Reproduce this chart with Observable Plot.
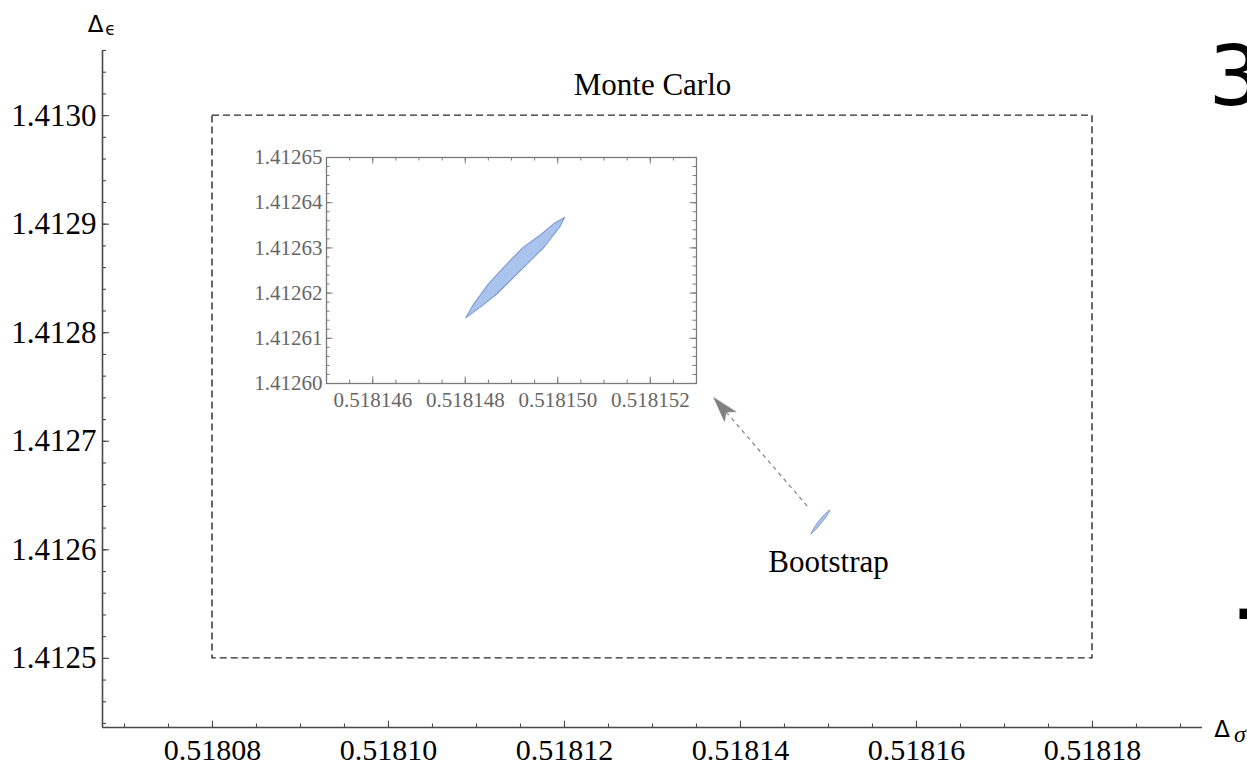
<!DOCTYPE html>
<html>
<head>
<meta charset="utf-8">
<script src="https://cdn.jsdelivr.net/npm/d3@7"></script>
<script src="https://cdn.jsdelivr.net/npm/@observablehq/plot@0.6"></script>
<style>
html, body { margin: 0; padding: 0; background: #fff; }
#wrap { position: relative; width: 1247px; height: 765px; overflow: hidden; background: #fff; }
#main { position: absolute; left: 0; top: 0; }
#inset { position: absolute; left: 240px; top: 140px; }
</style>
</head>
<body>
<div id="wrap"><div id="main"></div><div id="inset"></div></div>
<script>
// ---- main panel scales / ticks
const mainXDomain = [0.5180675, 0.5181925];
const mainYDomain = [1.4124363, 1.41306];
const mainXTicks = [0.51808, 0.51810, 0.51812, 0.51814, 0.51816, 0.51818];
const mainYTicks = [1.4125, 1.4126, 1.4127, 1.4128, 1.4129, 1.4130];
const mainXMinorStart = 0.51807, mainXMinorStep = 0.000005, mainXMinorCount = 25;
const mainYMinorStart = 1.41244, mainYMinorStep = 0.00002, mainYMinorCount = 32;

// Monte Carlo box
const mcBoxX = [0.51808, 0.51818];
const mcBoxY = [1.4125, 1.4130];

// Bootstrap region outline
const bootstrapX = [0.518148015, 0.518148174, 0.518148499, 0.518148824, 0.518149245, 0.518149620, 0.518149909, 0.518150148,
                    0.518150054, 0.518149707, 0.518149258, 0.518148681, 0.518148319, 0.518148015];
const bootstrapY = [1.41261458, 1.41261744, 1.41262200, 1.41262565, 1.41263005, 1.41263284, 1.41263533, 1.41263674,
                    1.41263482, 1.41263020, 1.41262565, 1.41261980, 1.41261685, 1.41261458];

// annotations
const annotationText = ["Monte Carlo", "Bootstrap"];
const annotationX = [0.51813, 0.51815];
const annotationY = [1.413028, 1.4125884];

// arrow (from bootstrap region to the inset)
const arrowX = [0.51814758, 0.51813697];
const arrowY = [1.4126403, 1.41274017];

// ---- inset scales / ticks
const insetXDomain = [0.518145, 0.518153];
const insetYDomain = [1.41260, 1.41265];
const insetXTicks = [0.518146, 0.518148, 0.518150, 0.518152];
const insetYTicks = [1.41260, 1.41261, 1.41262, 1.41263, 1.41264, 1.41265];
const insetXMinorStart = 0.5181455, insetXMinorStep = 0.0000005, insetXMinorCount = 15;
const insetYMinorStart = 1.412602, insetYMinorStep = 0.000002, insetYMinorCount = 24;

const range = (s, st, n) => Array.from({length: n}, (_, i) => +(s + i * st).toFixed(9));
const mainXMinor = range(mainXMinorStart, mainXMinorStep, mainXMinorCount);
const mainYMinor = range(mainYMinorStart, mainYMinorStep, mainYMinorCount);
const insetXMinor = range(insetXMinorStart, insetXMinorStep, insetXMinorCount);
const insetYMinor = range(insetYMinorStart, insetYMinorStep, insetYMinorCount);

// layout
const W = 1247, H = 765, mL = 102, mR = 45, mT = 50, mB = 38;
const pW = W - mL - mR, pH = H - mT - mB;
const serif = "'Liberation Serif', 'Times New Roman', serif";
const sans = "'DejaVu Sans', 'Liberation Sans', Arial, sans-serif";
const axisColor = "#4a4a4a";

// arrow head orientation from the scales
const sx = Plot.scale({x: {domain: mainXDomain, range: [mL, W - mR]}});
const sy = Plot.scale({y: {domain: mainYDomain, range: [H - mB, mT]}});
const adx = sx.apply(arrowX[1]) - sx.apply(arrowX[0]);
const ady = sy.apply(arrowY[1]) - sy.apply(arrowY[0]);
const arrowAngle = Math.atan2(adx, -ady) * 180 / Math.PI;
const dartShape = {
  draw(ctx, l) {
    ctx.moveTo(0, -l);
    ctx.lineTo(-7.5, 0);
    ctx.lineTo(0, -6);
    ctx.lineTo(7.5, 0);
    ctx.closePath();
  }
};

const lbl = (t, anchor, dx, dy, size, extra = {}) =>
  Plot.text([t], {frameAnchor: anchor, textAnchor: "middle", lineAnchor: "middle", dx, dy, fontSize: size, fontFamily: sans, fill: "black", ...extra});

const main = Plot.plot({
  width: W, height: H,
  marginLeft: mL, marginRight: mR, marginTop: mT, marginBottom: mB,
  x: {domain: mainXDomain},
  y: {domain: mainYDomain},
  style: {background: "transparent", fontFamily: serif, color: "black", overflow: "visible"},
  marks: [
    Plot.rect([{x1: mcBoxX[0], x2: mcBoxX[1], y1: mcBoxY[0], y2: mcBoxY[1]}],
      {x1: "x1", x2: "x2", y1: "y1", y2: "y2", fill: "none", stroke: "#2a2a2a", strokeWidth: 1.4, strokeDasharray: "7,4"}),
    Plot.line(bootstrapX, {x: bootstrapX, y: bootstrapY, fill: "#aac4ee", stroke: "#7d9ad0", strokeWidth: 1}),
    Plot.link([{x1: arrowX[0], y1: arrowY[0], x2: arrowX[1], y2: arrowY[1]}],
      {x1: "x1", y1: "y1", x2: "x2", y2: "y2", stroke: "#8a8a8a", strokeWidth: 1.3, strokeDasharray: "4,4"}),
    Plot.vector([{x: arrowX[1], y: arrowY[1]}],
      {x: "x", y: "y", length: 25, rotate: arrowAngle, anchor: "end", shape: dartShape, fill: "#808080", stroke: "#808080", strokeWidth: 0.5}),
    Plot.text(annotationText, {x: annotationX, y: annotationY, text: d => d, fontSize: 31, fill: "black"}),
    // ticks
    Plot.ruleX(mainXMinor, {insetTop: pH - 3.5, stroke: axisColor, strokeWidth: 1.1}),
    Plot.ruleX(mainXTicks, {insetTop: pH - 6.5, stroke: axisColor, strokeWidth: 1.1}),
    Plot.ruleY(mainYMinor, {insetRight: pW - 4, stroke: axisColor, strokeWidth: 1.1}),
    Plot.ruleY(mainYTicks, {insetRight: pW - 7, stroke: axisColor, strokeWidth: 1.1}),
    // axis lines
    Plot.ruleY([mainYDomain[0]], {stroke: axisColor, strokeWidth: 1.6}),
    Plot.ruleX([mainXDomain[0]], {stroke: axisColor, strokeWidth: 1.6}),
    Plot.axisX(mainXTicks, {tickSize: 0, tickPadding: 11, tickFormat: d => d.toFixed(5), fontSize: 30, color: "black", label: null}),
    Plot.axisY(mainYTicks, {tickSize: 0, tickPadding: 6, tickFormat: d => d.toFixed(4), fontSize: 31, color: "black", label: null}),
    // axis labels
    lbl("Δ", "top-left", -7, -26, 23),
    lbl("ϵ", "top-left", 8, -21, 17),
    lbl("Δ", "bottom-right", 19.5, 2.5, 23),
    lbl("σ", "bottom-right", 37.5, 6.5, 24, {fontStyle: "italic", fontFamily: serif}),
    // stray glyphs at the right edge
    lbl("3", "top-right", 6, 28, 84, {textAnchor: "start"}),
    lbl(".", "bottom-right", 28, -135, 84, {textAnchor: "start"})
  ]
});
document.getElementById("main").appendChild(main);

// ---- inset
const iW = 470, iH = 280, imL = 86, imR = 14, imT = 17, imB = 37;
const ipW = iW - imL - imR, ipH = iH - imT - imB;
const insetColor = "#7a7a7a";
const inset = Plot.plot({
  width: iW, height: iH,
  marginLeft: imL, marginRight: imR, marginTop: imT, marginBottom: imB,
  x: {domain: insetXDomain},
  y: {domain: insetYDomain},
  style: {background: "transparent", fontFamily: serif, color: "#666", overflow: "visible"},
  marks: [
    Plot.line(bootstrapX, {x: bootstrapX, y: bootstrapY, fill: "#aac4ee", stroke: "#7d9ad0", strokeWidth: 1.1}),
    Plot.ruleX(insetXMinor, {insetTop: ipH - 3.5, stroke: insetColor, strokeWidth: 1}),
    Plot.ruleX(insetXTicks, {insetTop: ipH - 6.5, stroke: insetColor, strokeWidth: 1}),
    Plot.ruleX(insetXMinor, {insetBottom: ipH - 3.5, stroke: insetColor, strokeWidth: 1}),
    Plot.ruleX(insetXTicks, {insetBottom: ipH - 6.5, stroke: insetColor, strokeWidth: 1}),
    Plot.ruleY(insetYMinor, {insetRight: ipW - 3.5, stroke: insetColor, strokeWidth: 1}),
    Plot.ruleY(insetYTicks, {insetRight: ipW - 6.5, stroke: insetColor, strokeWidth: 1}),
    Plot.ruleY(insetYMinor, {insetLeft: ipW - 3.5, stroke: insetColor, strokeWidth: 1}),
    Plot.ruleY(insetYTicks, {insetLeft: ipW - 6.5, stroke: insetColor, strokeWidth: 1}),
    Plot.frame({stroke: insetColor, strokeWidth: 1.3}),
    Plot.axisX(insetXTicks, {tickSize: 0, tickPadding: 9, tickFormat: d => d.toFixed(6), fontSize: 21, color: "#666", label: null}),
    Plot.axisY(insetYTicks, {tickSize: 0, tickPadding: 4, tickFormat: d => d.toFixed(5), fontSize: 21, color: "#666", label: null})
  ]
});
document.getElementById("inset").appendChild(inset);
</script>
</body>
</html>
